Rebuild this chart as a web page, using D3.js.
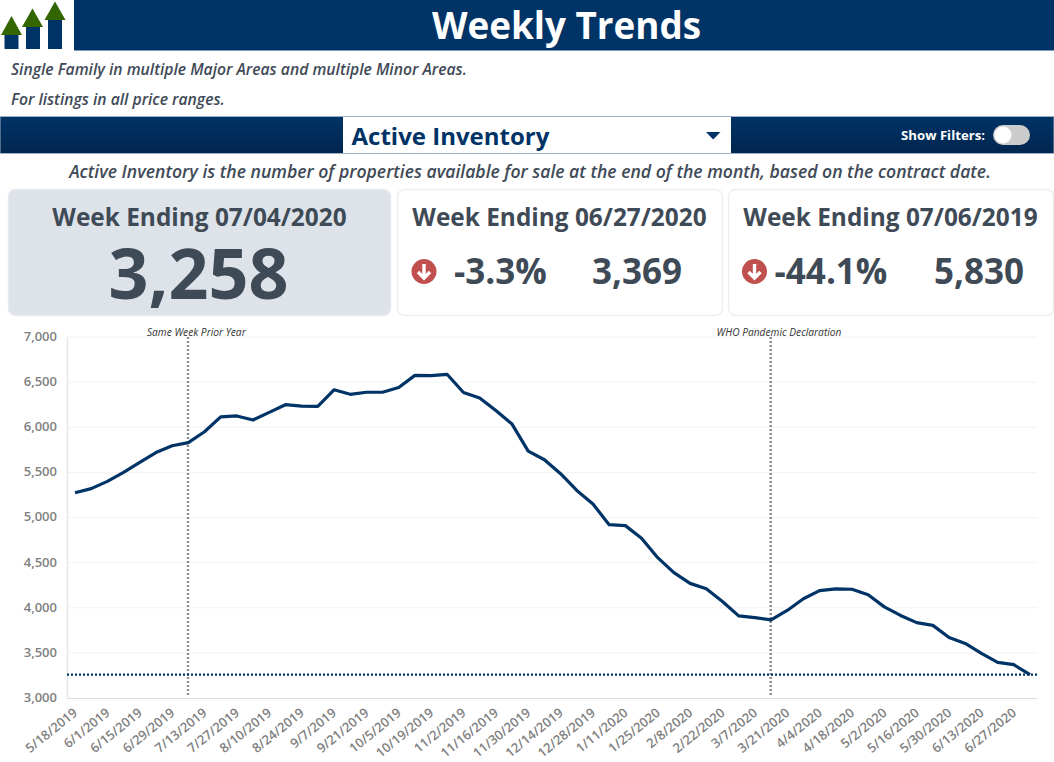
<!DOCTYPE html>
<html><head><meta charset="utf-8">
<script src="https://cdn.jsdelivr.net/npm/d3@7/dist/d3.min.js"></script>
<style>
html,body{margin:0;padding:0;background:#fff;overflow:hidden}
svg{display:block}
text{font-family:"Open Sans",sans-serif}
.axis-x text,.axis-y text{fill:#7f7f7f;font-weight:600}
</style></head><body>
<svg id="c" width="1054" height="762"></svg>
<script>
const weeks=["5/18/2019","5/25/2019","6/1/2019","6/8/2019","6/15/2019","6/22/2019","6/29/2019","7/6/2019","7/13/2019","7/20/2019","7/27/2019","8/3/2019","8/10/2019","8/17/2019","8/24/2019","8/31/2019","9/7/2019","9/14/2019","9/21/2019","9/28/2019","10/5/2019","10/12/2019","10/19/2019","10/26/2019","11/2/2019","11/9/2019","11/16/2019","11/23/2019","11/30/2019","12/7/2019","12/14/2019","12/21/2019","12/28/2019","1/4/2020","1/11/2020","1/18/2020","1/25/2020","2/1/2020","2/8/2020","2/15/2020","2/22/2020","2/29/2020","3/7/2020","3/14/2020","3/21/2020","3/28/2020","4/4/2020","4/11/2020","4/18/2020","4/25/2020","5/2/2020","5/9/2020","5/16/2020","5/23/2020","5/30/2020","6/6/2020","6/13/2020","6/20/2020","6/27/2020","7/4/2020"];
const inventory=[5275,5320,5400,5500,5610,5720,5795,5830,5950,6115,6125,6080,6165,6250,6235,6232,6415,6365,6388,6388,6440,6575,6572,6585,6385,6325,6185,6035,5735,5640,5485,5300,5150,4920,4910,4770,4555,4390,4270,4210,4070,3910,3890,3865,3970,4100,4190,4210,4205,4145,4010,3915,3835,3805,3670,3605,3495,3395,3369,3258];
const tickLabels=["5/18/2019","6/1/2019","6/15/2019","6/29/2019","7/13/2019","7/27/2019","8/10/2019","8/24/2019","9/7/2019","9/21/2019","10/5/2019","10/19/2019","11/2/2019","11/16/2019","11/30/2019","12/14/2019","12/28/2019","1/11/2020","1/25/2020","2/8/2020","2/22/2020","3/7/2020","3/21/2020","4/4/2020","4/18/2020","5/2/2020","5/16/2020","5/30/2020","6/13/2020","6/27/2020"];
const yTicks=[3000,3500,4000,4500,5000,5500,6000,6500,7000];
const annotations=[{week:"7/6/2019",label:"Same Week Prior Year"},{week:"3/14/2020",label:"WHO Pandemic Declaration"}];
const currentValue=3258;
const title="Weekly Trends";
const subtitles=["Single Family in multiple Major Areas and multiple Minor Areas.","For listings in all price ranges."];
const measure="Active Inventory";
const description="Active Inventory is the number of properties available for sale at the end of the month, based on the contract date.";
const cards=[
 {head:"Week Ending 07/04/2020",value:"3,258"},
 {head:"Week Ending 06/27/2020",pct:"-3.3%",value:"3,369"},
 {head:"Week Ending 07/06/2019",pct:"-44.1%",value:"5,830"}];

const NAVY="#003366",INK="#3f4a57";
const svg=d3.select("#c");
const defs=svg.append("defs");
const g=defs.append("linearGradient").attr("id","bar").attr("x1",0).attr("x2",0).attr("y1",0).attr("y2",1);
g.append("stop").attr("offset",0).attr("stop-color","#003366");
g.append("stop").attr("offset",1).attr("stop-color","#00264f");

// header
svg.append("rect").attr("x",74).attr("y",0).attr("width",980).attr("height",50.5).attr("fill",NAVY);
svg.append("text").attr("x",566.5).attr("y",38.5).attr("text-anchor","middle").attr("font-size",36.8).attr("font-weight",700).attr("fill","#fff").text(title);
// logo
[[4.5,35,14,14],[26,27,14,22],[48,20,14,29]].forEach(d=>{
  svg.append("rect").attr("x",d[0]).attr("y",d[1]).attr("width",d[2]).attr("height",d[3]).attr("fill",NAVY);
});
[[11.5,35,16],[32.5,27,8.5],[55,20,1.5]].forEach(d=>{
  svg.append("path").attr("d",`M${d[0]-10.5},${d[1]}L${d[0]},${d[2]}L${d[0]+10.5},${d[1]}Z`).attr("fill","#336600");
});
subtitles.forEach((s,i)=>svg.append("text").attr("x",11).attr("y",75+i*30-(i?0.5:0)).attr("font-size",15.7).attr("font-style","italic").attr("font-weight",600).attr("fill",INK).text(s));

// control bar
svg.append("rect").attr("x",0).attr("y",116.5).attr("width",1054).attr("height",37).attr("fill","url(#bar)").attr("stroke","#9fb0c4").attr("stroke-width",1);
svg.append("rect").attr("x",343).attr("y",117).attr("width",388).attr("height",36).attr("fill","#fff");
svg.append("text").attr("x",351.5).attr("y",145).attr("font-size",24).attr("font-weight",700).attr("fill",NAVY).text(measure);
svg.append("path").attr("d","M706,132L720.5,132L713.2,139.5Z").attr("fill",NAVY);
svg.append("text").attr("x",985).attr("y",140).attr("text-anchor","end").attr("font-size",13.2).attr("font-weight",700).attr("fill","#fff").text("Show Filters:");
svg.append("rect").attr("x",993).attr("y",125).attr("width",37).attr("height",20).attr("rx",10).attr("fill","#ccc");
svg.append("circle").attr("cx",1003).attr("cy",135).attr("r",8.5).attr("fill","#fff");
svg.append("text").attr("x",530).attr("y",177.5).attr("text-anchor","middle").attr("font-size",17.6).attr("font-style","italic").attr("font-weight",600).attr("fill",INK).text(description);

// cards
const cx=[[8,382],[397,325],[728,325]];
cards.forEach((c,i)=>{
  svg.append("rect").attr("x",cx[i][0]+.5).attr("y",189.5).attr("width",cx[i][1]).attr("height",126).attr("rx",7)
    .attr("fill",i==0?"#dee3ea":"#fff").attr("stroke",i==0?"#e6e9ee":"#eeeeee").attr("stroke-width",1.5);
  svg.append("text").attr("x",cx[i][0]+cx[i][1]/2+(i==0?0.5:0)).attr("y",226).attr("text-anchor","middle").attr("font-size",24.4).attr("font-weight",700).attr("fill",INK).text(c.head);
});
svg.append("text").attr("x",198.5).attr("y",299).attr("text-anchor","middle").attr("font-size",70).attr("font-weight",700).attr("fill",INK).text(cards[0].value);
[[424,500.5,637],[754.5,831,979]].forEach((p,i)=>{
  const c=cards[i+1];
  svg.append("circle").attr("cx",p[0]).attr("cy",271.5).attr("r",12.5).attr("fill","#c0504d");
  svg.append("path").attr("d",`M${p[0]},264V278M${p[0]-6},272L${p[0]},278L${p[0]+6},272`).attr("fill","none").attr("stroke","#fff").attr("stroke-width",3.4);
  svg.append("text").attr("x",p[1]).attr("y",284).attr("text-anchor","middle").attr("font-size",35).attr("font-weight",700).attr("fill",INK).text(c.pct);
  svg.append("text").attr("x",p[2]).attr("y",284).attr("text-anchor","middle").attr("font-size",35).attr("font-weight",700).attr("fill",INK).text(c.value);
});

// chart
const x=d3.scalePoint().domain(weeks).range([75,1030]);
const y=d3.scaleLinear().domain([3000,7000]).range([698,337]);
const left=67,right=1037;
svg.append("g").selectAll("line").data(yTicks.slice(1)).join("line")
  .attr("x1",left).attr("x2",right).attr("y1",d=>y(d)).attr("y2",d=>y(d)).attr("stroke","#f3f3f3");
const ay=svg.append("g").attr("class","axis-y").attr("transform",`translate(${left},0)`)
  .call(d3.axisLeft(y).tickValues(yTicks).tickFormat(d3.format(",")).tickSize(0).tickPadding(10));
ay.select(".domain").attr("stroke","#e8e8e8").attr("stroke-width",1.5);
ay.selectAll("text").attr("font-size",13).attr("font-weight",700).attr("y",-0.7);
const ax=svg.append("g").attr("class","axis-x").attr("transform","translate(0,698)")
  .call(d3.axisBottom(x).tickValues(tickLabels).tickSize(0));
ax.select(".domain").attr("d",`M${left},0.5H${right}`).attr("stroke","#dcdcdc").attr("stroke-width",1.2);
ax.selectAll("text").attr("font-size",13).attr("text-anchor","end").attr("dy",0)
  .attr("transform","translate(1,14) rotate(-39)");

annotations.forEach(a=>{
  svg.append("line").attr("x1",x(a.week)-0.3).attr("x2",x(a.week)-0.3).attr("y1",337).attr("y2",697)
    .attr("stroke","#8a8a8a").attr("stroke-width",2.4).attr("stroke-dasharray","2 2");
  svg.append("text").attr("x",x(a.week)+8).attr("y",335.5).attr("text-anchor","middle").attr("font-size",10.2).attr("font-style","italic").attr("fill","#333").text(a.label);
});
svg.append("line").attr("x1",left).attr("x2",right).attr("y1",y(currentValue)).attr("y2",y(currentValue))
  .attr("stroke",NAVY).attr("stroke-width",2.2).attr("stroke-dasharray","2 2");
const line=d3.line().x((d,i)=>x(weeks[i])).y(d=>y(d));
svg.append("path").datum(inventory).attr("d",line).attr("fill","none").attr("stroke",NAVY).attr("stroke-width",3.2).attr("stroke-linejoin","round");
</script></body></html>
